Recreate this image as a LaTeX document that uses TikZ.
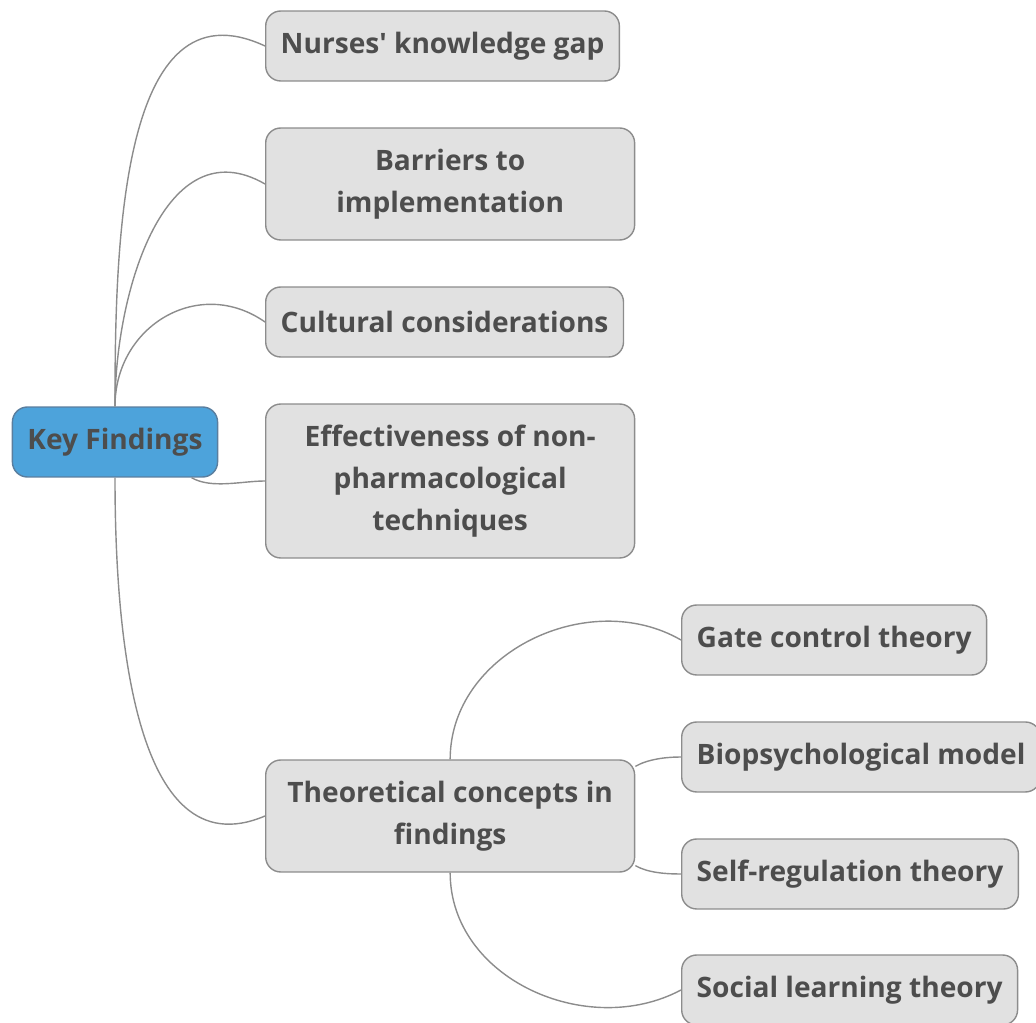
\documentclass[tikz,border=0pt]{standalone}
\usepackage{fontspec}
\setmainfont{Open Sans}
\usepackage{tikz}

\definecolor{textgray}{HTML}{4D4D4D}
\definecolor{boxgray}{HTML}{E1E1E1}
\definecolor{linegray}{HTML}{8C8C8C}
\definecolor{rootblue}{HTML}{4DA3DB}
\definecolor{rootline}{HTML}{5A7E9E}

\begin{document}
\begin{tikzpicture}
  [x=0.02cm,y=-0.02cm,
   topic node/.style={rectangle,rounded corners=0.3cm,draw=linegray,line width=0.8pt,fill=boxgray,
     text=textgray,font=\fontsize{16}{24}\selectfont\bfseries,align=center,inner xsep=0.3cm,
     minimum height=1.4cm,anchor=west},
   root node/.style={topic node,fill=rootblue,draw=rootline,anchor=center},
   link/.style={draw=linegray,line width=0.8pt}]
  \useasboundingbox (0,0) rectangle (1036,1023);

\node[root node] (root) at (115,442) {Key Findings};

\node[topic node] (gap) at (265,46) {Nurses\textquotesingle{} knowledge gap};
\node[topic node,minimum height=2.24cm,minimum width=7.38cm] (barr) at (265,184) {Barriers to\\implementation};
\node[topic node] (cult) at (265,322) {Cultural considerations};
\node[topic node,minimum height=3.08cm,minimum width=7.38cm] (eff) at (265,481) {Effectiveness of non-\\pharmacological\\techniques};
\node[topic node,minimum height=2.24cm,minimum width=7.38cm] (theo) at (265,816) {Theoretical concepts in\\findings};

\node[topic node] (gate) at (681,640) {Gate control theory};
\node[topic node] (bio) at (681,757) {Biopsychological model};
\node[topic node] (self) at (681,874) {Self-regulation theory};
\node[topic node] (soc) at (681,990) {Social learning theory};

  % branches of the root
  \path[link]
(root.north) edge [out=90,in=155,looseness=1.05] (gap.west)
             edge [out=90,in=150,looseness=1.1] (barr.west)
             edge [out=90,in=145,looseness=1.2] (cult.west)
(root.-25) edge [out=-30,in=180,looseness=0.8] (eff.west)
(root.south) edge [out=-90,in=203,looseness=1] (theo.west);

  % branches of the theory node
  \path[link]
(theo.north) edge [out=90,in=150,looseness=1.05] (gate.west)
(theo.15) edge [out=30,in=180,looseness=0.8] (bio.west)
(theo.-15) edge [out=-30,in=180,looseness=0.8] (self.west)
(theo.south) edge [out=-90,in=208,looseness=1.05] (soc.west);

\end{tikzpicture}
\end{document}
